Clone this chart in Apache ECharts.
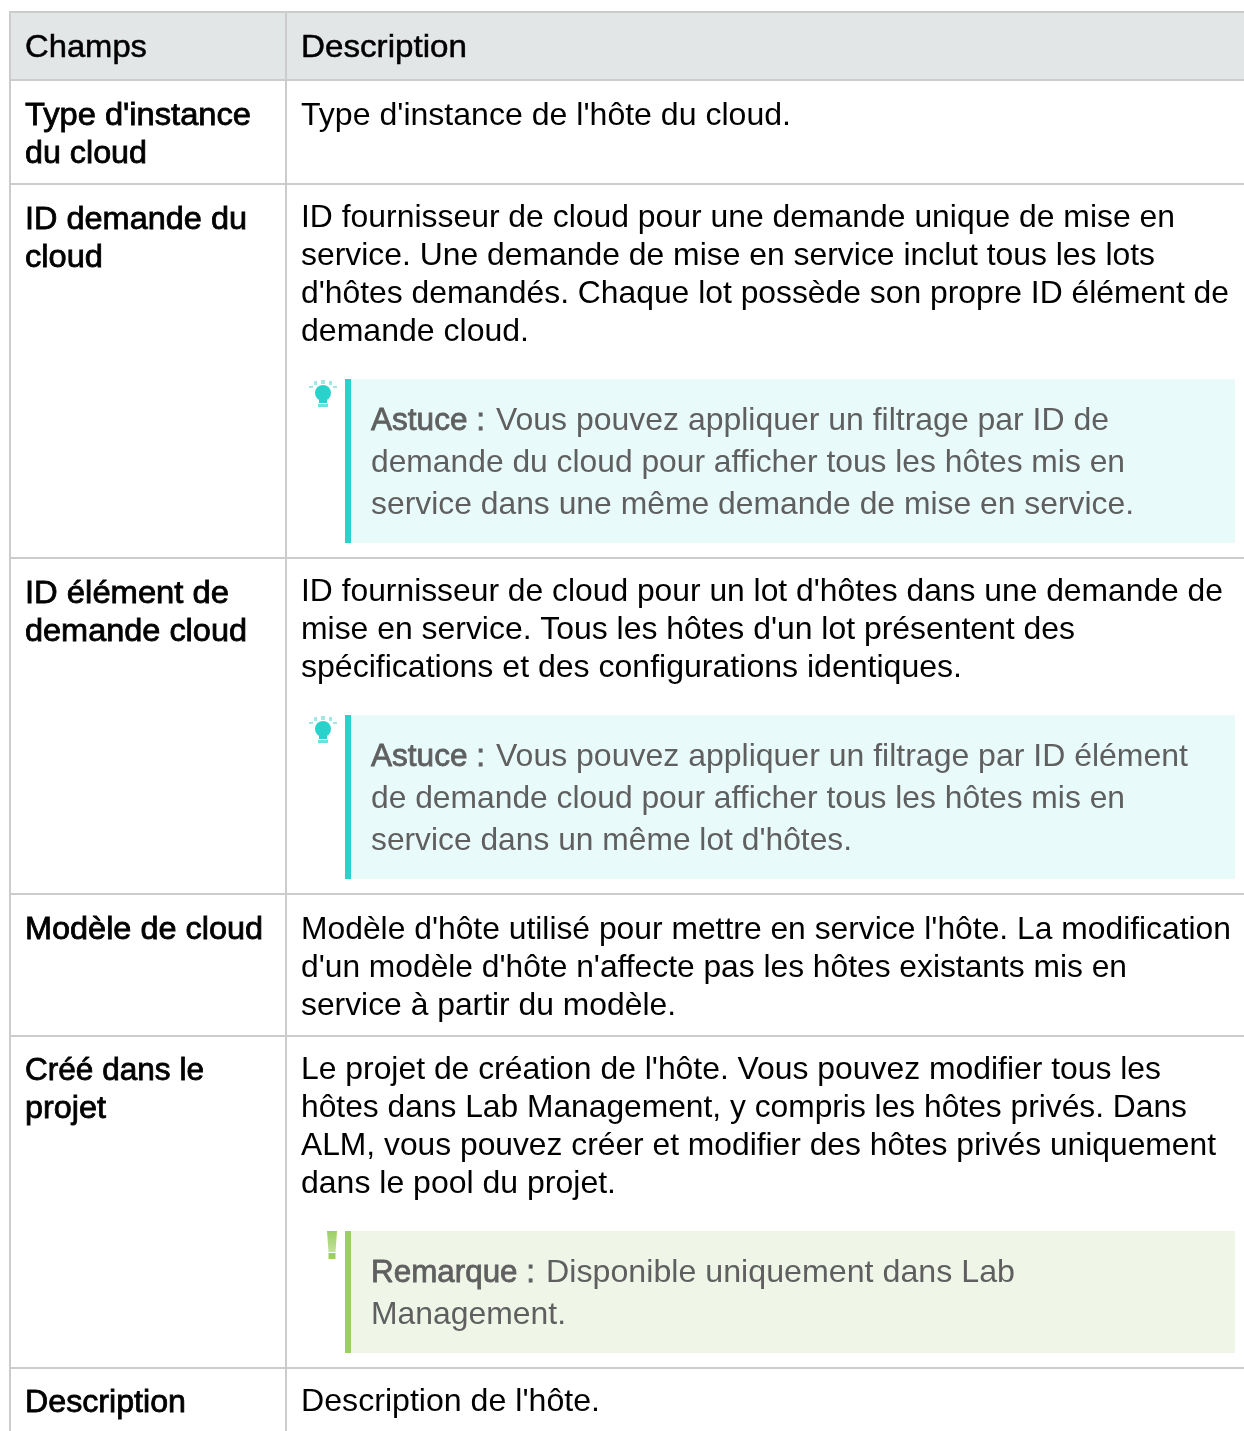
<!DOCTYPE html>
<html>
<head>
<meta charset="utf-8">
<title>Champs</title>
<style>
html, body { margin: 0; padding: 0; background: #fff; overflow: hidden; }
#main { width: 1244px; height: 1431px; }
</style>
<script src="https://cdn.jsdelivr.net/npm/echarts@6/dist/echarts.min.js"></script>
</head>
<body>
<div id="main"></div>
<script>
var headers = ["Champs", "Description"];
var fieldLines = [
   ["Type d'instance", "du cloud"],
   ["ID demande du", "cloud"],
   ["ID élément de", "demande cloud"],
   ["Modèle de cloud"],
   ["Créé dans le", "projet"],
   ["Description"]
];
var descLines = [
   ["Type d'instance de l'hôte du cloud."],
   ["ID fournisseur de cloud pour une demande unique de mise en",
    "service. Une demande de mise en service inclut tous les lots",
    "d'hôtes demandés. Chaque lot possède son propre ID élément de",
    "demande cloud."],
   ["ID fournisseur de cloud pour un lot d'hôtes dans une demande de",
    "mise en service. Tous les hôtes d'un lot présentent des",
    "spécifications et des configurations identiques."],
   ["Modèle d'hôte utilisé pour mettre en service l'hôte. La modification",
    "d'un modèle d'hôte n'affecte pas les hôtes existants mis en",
    "service à partir du modèle."],
   ["Le projet de création de l'hôte. Vous pouvez modifier tous les",
    "hôtes dans Lab Management, y compris les hôtes privés. Dans",
    "ALM, vous pouvez créer et modifier des hôtes privés uniquement",
    "dans le pool du projet."],
   ["Description de l'hôte."]
];
var noteLabels = [null, "Astuce :", "Astuce :", null, "Remarque :", null];
var noteLines = [
   null,
   ["Vous pouvez appliquer un filtrage par ID de",
    "demande du cloud pour afficher tous les hôtes mis en",
    "service dans une même demande de mise en service."],
   ["Vous pouvez appliquer un filtrage par ID élément",
    "de demande cloud pour afficher tous les hôtes mis en",
    "service dans un même lot d'hôtes."],
   null,
   ["Disponible uniquement dans Lab",
    "Management."],
   null
];

// mise en page (pixels)
var rowY = [80, 184, 558, 894, 1036, 1368];
var fieldY = [116, 220, 594, 930, 1071, 1403];
var descY = [116, 218, 592, 930, 1070, 1402];
var noteY = [null, 379, 715, null, 1231, null];
var noteH = [null, 164, 164, null, 122, null];
var colX = [10, 286];
// bord droit de chaque ligne
var headerRight = [147, 467];
var fieldRight = [[251, 147], [247, 103], [229, 247], [263], [204, 106], [186]];
var descRight = [[791], [1175, 1155, 1229, 529], [1223, 1075, 962], [1231, 1127, 676], [1161, 1187, 1216, 616], [600]];
var noteRight = [null, [1109, 1125, 1134], [1188, 1125, 852], null, [1015, 566], null];
var labelRight = {"Astuce :": 485, "Remarque :": 535};
var fontName = '"Liberation Sans", Arial, sans-serif';
var bodySize = 32;
var gridColor = "#cccccc";
var noteColor = "#5f5f5f";

var ctx = document.createElement("canvas").getContext("2d");
ctx.font = bodySize + "px " + fontName;

var g = [];

function rect(x, y, w, h, fill) {
   g.push({type: "rect", silent: true, shape: {x: x, y: y, width: w, height: h}, style: {fill: fill}});
}
// ligne de texte, mise à la largeur lue ; weight = épaisseur du trait pour le faux gras
function text(x, y, s, color, right, weight) {
   var style = {text: s, fill: color, font: bodySize + "px " + fontName, verticalAlign: "middle"};
   if (weight) {
      style.stroke = color;
      style.lineWidth = weight;
   }
   g.push({type: "text", silent: true, x: x, y: y, scaleX: (right - x) / ctx.measureText(s).width, style: style});
}
function bulb(x, y) {
   var c = "#29d3cb", l = "#9fe8e3";
   g.push({type: "circle", silent: true, shape: {cx: x, cy: y + 14, r: 8}, style: {fill: c}});
   rect(x - 4, y + 19, 8, 5, c);
   rect(x - 5, y + 25, 10, 3, "#6fe0da");
   rect(x - 2, y + 1, 4, 4, l);
   [[-9, 2], [6, 2]].forEach(function (p) { rect(x + p[0], y + p[1], 3, 4, l); });
   [[-14, 7], [10, 7]].forEach(function (p) { rect(x + p[0], y + p[1], 4, 2, l); });
}
function mark(x, y) {
   var c = "#9ccf63";
   g.push({type: "polygon", silent: true, shape: {points: [[x - 5, y], [x + 5, y], [x + 3.5, y + 21], [x - 3.5, y + 21]]},
      style: {fill: new echarts.graphic.LinearGradient(0, 0, 0, 1, [{offset: 0, color: c}, {offset: 1, color: "#c2e09f"}])}});
   rect(x - 3.5, y + 22, 7, 6, c);
}

// entête
rect(colX[0], 12, 1244 - colX[0], 68, "#e3e6e7");
text(25, 48, headers[0], "#000", headerRight[0], 0.5);
text(301, 48, headers[1], "#000", headerRight[1], 0.5);

fieldLines.forEach(function (lines, r) {
   lines.forEach(function (s, i) { text(25, fieldY[r] + i * 38, s, "#000", fieldRight[r][i], 0.8); });
   descLines[r].forEach(function (s, i) { text(301, descY[r] + i * 38, s, "#000", descRight[r][i]); });
   if (noteLines[r]) {
      var isTip = noteLabels[r] === "Astuce :";
      rect(345, noteY[r], 890, noteH[r], isTip ? "#e9fafa" : "#eff6e8");
      rect(345, noteY[r], 6, noteH[r], isTip ? "#29d3cb" : "#9ccf63");
      if (isTip) bulb(323, noteY[r]); else mark(332, noteY[r]);
      noteLines[r].forEach(function (s, i) {
         var y = noteY[r] + 42 + i * 42;
         var start = 371;
         if (i === 0) {
            text(371, y, noteLabels[r], noteColor, labelRight[noteLabels[r]], 0.8);
            start = labelRight[noteLabels[r]] + 11;
         }
         text(start, y, s, noteColor, noteRight[r][i]);
      });
   }
});

// lignes du tableau
rect(colX[0], 11, 1244 - colX[0], 2, gridColor);
rowY.forEach(function (y) { rect(colX[0], y - 1, 1244 - colX[0], 2, gridColor); });
colX.forEach(function (x) { rect(x - 1, 11, 2, 1420, gridColor); });

var chart = echarts.init(document.getElementById("main"), null, {renderer: "canvas", width: 1244, height: 1431});
chart.setOption({animation: false, graphic: {elements: g}});
</script>
</body>
</html>
